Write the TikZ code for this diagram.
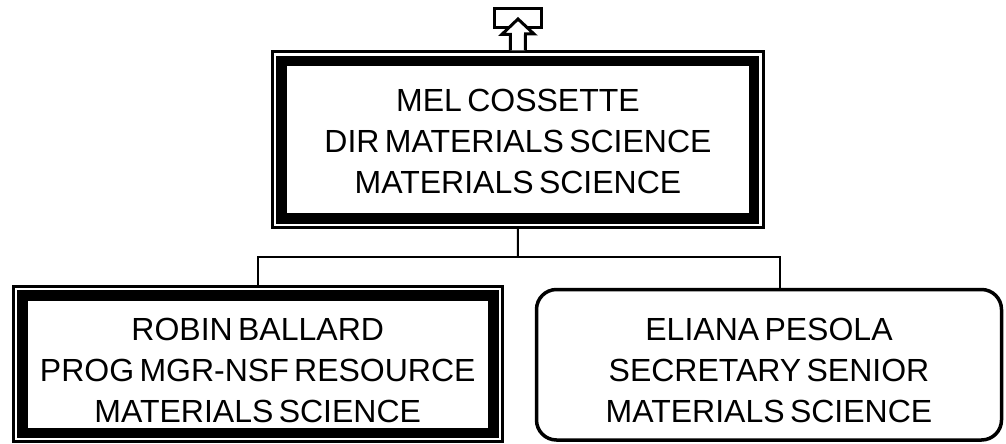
\documentclass[tikz,border=0pt]{standalone}
\usepackage{fontspec}
\setmainfont{Liberation Sans}[WordSpace=0.6]
\begin{document}
\begin{tikzpicture}[x=1pt,y=-1pt,
  outerbox/.style={draw,line width=3pt,rectangle,inner sep=0pt},
  thickframe/.style={draw,line width=10.5pt},
  roundbox/.style={draw,line width=3.5pt,rectangle,rounded corners=20pt,inner sep=0pt},
  txt/.style={align=center,font=\fontsize{32}{41}\selectfont,inner sep=0pt},
  conn/.style={draw,line width=2pt}]
\useasboundingbox (0,0) rectangle (1006,444);
% top box
\node[outerbox,minimum width=490.5pt,minimum height=175.5pt] (top) at (517.75,139.75) {};
\draw[thickframe] ([xshift=10.5pt,yshift=-10.5pt]top.north west) rectangle ([xshift=-10.5pt,yshift=10.5pt]top.south east);
\node[txt] (toptext) at (518,141) {MEL COSSETTE\\DIR MATERIALS SCIENCE\\MATERIALS SCIENCE};
% left box
\node[outerbox,minimum width=488.5pt,minimum height=155.5pt] (left) at (257.75,363.75) {};
\draw[thickframe] ([xshift=10.5pt,yshift=-11pt]left.north west) rectangle ([xshift=-10pt,yshift=10pt]left.south east);
\node[txt] (lefttext) at (257.75,370.5) {ROBIN BALLARD\\PROG MGR-NSF RESOURCE\\MATERIALS SCIENCE};
% right box
\node[roundbox,minimum width=465pt,minimum height=150.5pt] (right) at (769,364.75) {};
\node[txt] (righttext) at (769,370.5) {ELIANA PESOLA\\SECRETARY SENIOR\\MATERIALS SCIENCE};
% connectors
\coordinate (j) at (518,257);
\coordinate (rj) at (780,257);
\draw[conn] (top.south) -- (j);
\draw[conn] (left.north) |- (j) -- (rj) -- (rj |- right.north);
% up arrow
\node[outerbox,minimum width=47pt,minimum height=19pt] (upbox) at (518,18.5) {};
\draw[line width=3pt,fill=white,line join=miter]
  ([xshift=-7.5pt]top.north) -- ++(0,-16) -- ++(-8.5,0) -- (518,19) -- (534,34) -- (525.5,34) -- ([xshift=7.5pt]top.north);
\end{tikzpicture}
\end{document}
